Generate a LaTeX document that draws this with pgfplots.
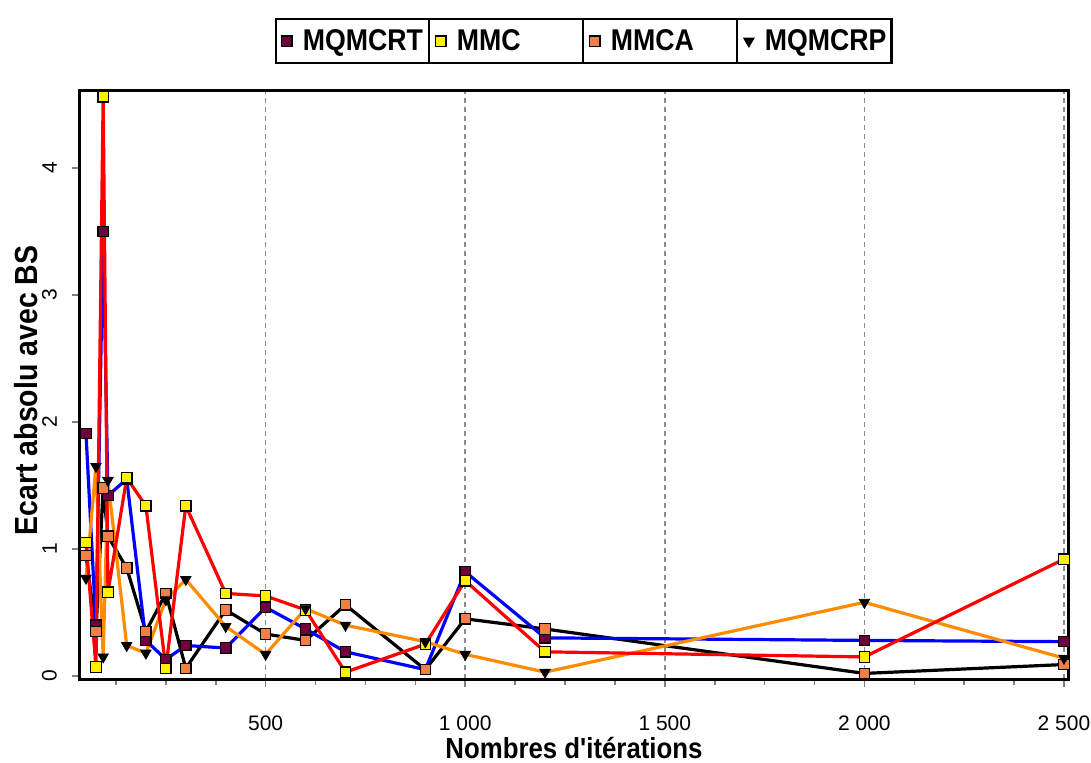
\documentclass[border=0pt]{standalone}
\usepackage{fontspec}
\setmainfont{Liberation Sans}
\newfontfamily\narrow[FakeStretch=0.89]{Liberation Sans}
\usepackage{pgfplots}
\pgfplotsset{compat=1.18}
\usepackage{pgfplotstable}

\definecolor{maroon}{RGB}{110,0,60}
\definecolor{sqorange}{RGB}{240,128,72}
\definecolor{lnorange}{RGB}{255,140,0}

\pgfplotstableread{
x     rt    mmc   mmca  rp
50    1.91  1.05  0.95  0.77
75    0.40  0.07  0.35  1.65
93    3.50  4.56  1.48  0.15
105   1.42  0.66  1.10  1.54
152   1.55  1.56  0.85  0.24
200   0.28  1.34  0.35  0.18
250   0.13  0.06  0.65  0.60
300   0.24  1.34  0.06  0.76
400   0.22  0.65  0.52  0.39
500   0.54  0.63  0.33  0.17
600   0.37  0.52  0.28  0.53
700   0.19  0.03  0.56  0.40
900   0.05  0.25  0.05  0.27
1000  0.82  0.75  0.45  0.17
1200  0.30  0.19  0.37  0.03
2000  0.28  0.15  0.02  0.58
2500  0.27  0.92  0.09  0.14
}\data

\begin{document}
\begin{tikzpicture}
\path[use as bounding box] (-40pt,-41.5pt) rectangle (505.5pt,339.5pt);
\begin{axis}[
  at={(0pt,0pt)}, anchor=south west,
  scale only axis, width=494pt, height=294.5pt,
  xmin=35, xmax=2510, ymin=-0.024, ymax=4.614,
  axis line style={line width=1.5pt, black},
  xtick={500,1000,1500,2000,2500},
  minor xtick={125,250,375,625,750,875,1125,1250,1375,1625,1750,1875,2125,2250,2375},
  ytick={0,1,2,3,4},
  tick align=outside,
  xtick pos=left, ytick pos=left,
  major tick length=4pt, minor tick length=3pt,
  tick style={gray, line width=0.8pt},
  xmajorgrids,
  major grid style={black!45, line width=0.8pt, dash pattern=on 2.5pt off 2pt},
  ticklabel style={font=\fontsize{10.5}{12}\selectfont},
  /pgf/number format/assume math mode=true,
  /pgf/number format/1000 sep={\ },
  xticklabel shift=11pt,
  yticklabel shift=4pt,
  yticklabel style={rotate=90, anchor=south},
  xlabel={Nombres d'itérations},
  xlabel style={font=\narrow\bfseries\fontsize{14.5}{16}\selectfont, at={(axis description cs:0.5,-0.117)}, anchor=center},
  ylabel={Ecart absolu avec BS},
  ylabel style={font=\narrow\bfseries\fontsize{16}{18}\selectfont, at={(axis description cs:-0.0547,0.49)}, anchor=center},
  legend columns=4,
  legend style={at={(axis description cs:0.51,1.083)}, anchor=center,
    draw=black, line width=1pt, inner xsep=0pt, inner ysep=0pt,
    /tikz/every even column/.append style={column sep=0pt},
    /tikz/every odd column/.append style={column sep=0pt},
    nodes={font=\narrow\bfseries\fontsize{15}{17}\selectfont, inner xsep=1.5pt, inner ysep=0pt,
      minimum height=20pt, text width=61pt, align=left,
      append after command={(\tikzlastnode.north east) edge[draw=black, line width=1pt] (\tikzlastnode.south east)}}},
  legend image code/.code={%
    \path (0pt,0pt) (11pt,0pt);
    \draw[mark repeat=2,mark phase=2] plot coordinates {(4.5pt,0pt)(5pt,0pt)(5.5pt,0pt)};
  },
]
% lines
\addplot[forget plot, no marks, black, line width=1.6pt, line join=round] table[x=x,y=mmca]{\data};
\addplot[forget plot, no marks, blue, line width=1.6pt, line join=round] table[x=x,y=rt]{\data};
\addplot[forget plot, no marks, lnorange, line width=1.6pt, line join=round] table[x=x,y=rp]{\data};
\addplot[forget plot, no marks, red, line width=1.6pt, line join=round] table[x=x,y=mmc]{\data};
% markers
\addplot[only marks, mark=square*, mark size=2.6pt, mark options={fill=maroon, draw=black, line width=0.6pt}] table[x=x,y=rt]{\data};
\addlegendentry{MQMCRT}
\addplot[only marks, mark=square*, mark size=2.6pt, mark options={fill=yellow, draw=black, line width=0.6pt}] table[x=x,y=mmc]{\data};
\addlegendentry{MMC}
\addplot[only marks, mark=square*, mark size=2.6pt, mark options={fill=sqorange, draw=black, line width=0.6pt}] table[x=x,y=mmca]{\data};
\addlegendentry{MMCA}
\addplot[only marks, mark=triangle*, mark size=3pt, mark options={rotate=180, fill=black, draw=black, line width=0.4pt}] table[x=x,y=rp]{\data};
\addlegendentry{MQMCRP}
\end{axis}
\end{tikzpicture}
\end{document}
